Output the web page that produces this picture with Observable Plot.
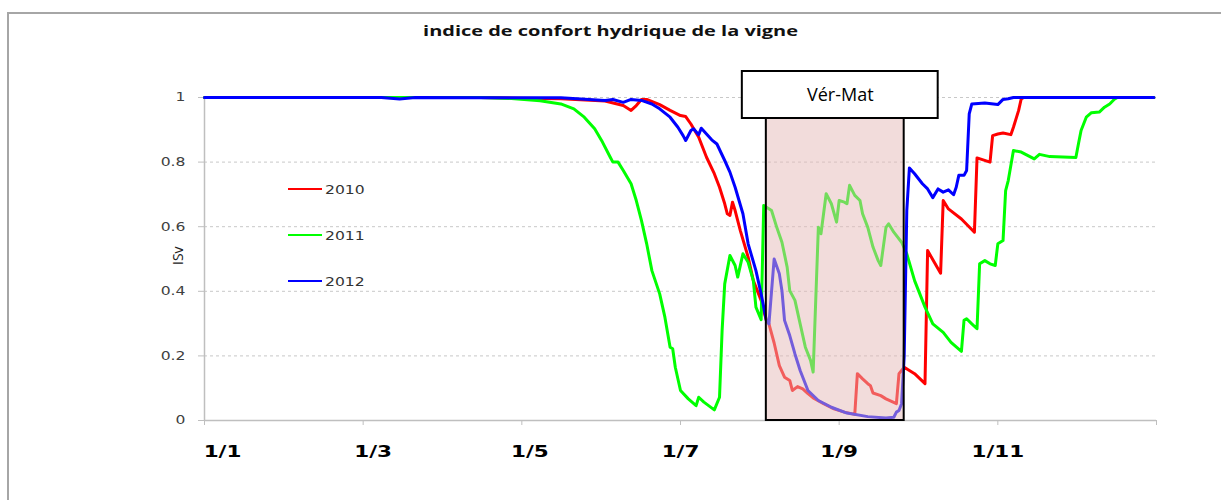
<!DOCTYPE html>
<html><head><meta charset="utf-8">
<script src="https://cdn.jsdelivr.net/npm/d3@7"></script>
<script src="https://cdn.jsdelivr.net/npm/@observablehq/plot@0.6"></script>
<style>
html,body{margin:0;padding:0;background:#fff;width:1221px;height:500px;overflow:hidden;}
#cadre{position:absolute;left:7px;top:12px;right:-4px;bottom:-4px;border-top:2px solid #a6a6a6;border-left:2px solid #a6a6a6;}
#titre{position:absolute;left:0;top:21px;width:1221px;text-align:center;font:bold 14px "Open Sans";color:#111;line-height:20px;}
#titre span{display:inline-block;transform-origin:center;}
#chart{position:absolute;left:0;top:50px;}
</style></head><body>
<div id="cadre"></div>
<div id="titre"><span>indice de confort hydrique de la vigne</span></div>
<div id="chart"></div>
<script>
// Séries (jour depuis le 1er janvier, indice ISv)
const annees = ["2010", "2011", "2012"];
const jours2010 = [0,106,121,137,154,161,164,166,168,170,175,179,183,185,187,190,193,196,198,200,201,202,203,204,206,209,211,214,216,217,219,221,223,225,226,228,230,232,234,238,242,246,250,251,253,255,256,257,260,262,266,267,269,273,277,278,283,284,286,291,296,297,302,303,305,307,310,311,313,314,315,365];
const isv2010 = [1,1,0.998,0.996,0.989,0.975,0.96,0.975,0.994,0.994,0.978,0.96,0.944,0.941,0.918,0.877,0.815,0.764,0.722,0.671,0.64,0.635,0.676,0.65,0.588,0.506,0.433,0.372,0.31,0.299,0.24,0.17,0.134,0.124,0.093,0.105,0.098,0.083,0.07,0.052,0.036,0.026,0.019,0.145,0.129,0.114,0.108,0.085,0.077,0.067,0.052,0.145,0.165,0.145,0.114,0.526,0.456,0.681,0.655,0.624,0.583,0.813,0.8,0.882,0.887,0.89,0.885,0.908,0.96,0.996,1,1];
const jours2011 = [0,106,118,129,137,142,146,150,153,156,157,159,161,164,166,168,170,172,175,177,179,180,181,183,186,189,190,192,196,198,199,200,202,204,205,207,209,211,212,214,215,218,220,222,224,225,227,229,231,233,234,236,237,239,241,243,244,246,247,248,250,252,253,255,257,259,260,262,263,265,268,270,273,277,280,284,287,291,292,293,295,297,298,300,302,304,305,307,308,309,311,314,319,321,325,335,336,337,339,341,344,346,348,350,351,365];
const isv2011 = [1,1,0.997,0.99,0.98,0.965,0.939,0.903,0.862,0.815,0.8,0.8,0.774,0.733,0.681,0.619,0.547,0.464,0.392,0.32,0.227,0.222,0.165,0.093,0.067,0.046,0.072,0.057,0.033,0.072,0.279,0.423,0.511,0.48,0.444,0.516,0.49,0.433,0.351,0.312,0.666,0.65,0.598,0.552,0.475,0.402,0.372,0.299,0.227,0.186,0.15,0.598,0.578,0.702,0.671,0.614,0.681,0.676,0.671,0.728,0.697,0.681,0.64,0.598,0.537,0.495,0.48,0.598,0.609,0.583,0.552,0.516,0.433,0.351,0.299,0.273,0.242,0.214,0.31,0.315,0.299,0.284,0.485,0.495,0.485,0.48,0.547,0.557,0.712,0.743,0.836,0.831,0.81,0.824,0.817,0.814,0.857,0.898,0.939,0.953,0.955,0.97,0.98,0.996,1,1];
const jours2012 = [0,68,75,81,137,154,157,161,164,168,172,175,179,182,184,185,187,188,190,191,193,195,197,200,202,204,207,209,212,214,216,217,219,221,222,223,225,227,229,232,236,241,247,255,262,265,266,267,268,269,270,271,273,276,278,280,282,284,286,288,289,290,292,293,294,295,300,305,307,309,311,365];
const isv2012 = [1,1,0.995,1,0.999,0.991,0.994,0.985,0.994,0.991,0.98,0.965,0.939,0.908,0.882,0.867,0.898,0.903,0.885,0.905,0.887,0.869,0.856,0.805,0.769,0.722,0.64,0.547,0.464,0.392,0.31,0.299,0.5,0.454,0.402,0.31,0.263,0.206,0.155,0.093,0.062,0.041,0.023,0.012,0.008,0.01,0.026,0.031,0.052,0.2,0.65,0.782,0.764,0.733,0.717,0.69,0.717,0.707,0.714,0.699,0.722,0.759,0.759,0.774,0.949,0.98,0.983,0.978,0.994,0.996,1,1];

// Axes
const tickJours = [0, 61, 122, 183, 244, 305, 366];
const tickLabels = ["1/1", "1/3", "1/5", "1/7", "1/9", "1/11", ""];
const yTicks = [0, 0.2, 0.4, 0.6, 0.8, 1];
const yLabel = "ISv";

// Période véraison - maturité
const phaseNom = "Vér-Mat";
const phaseJours = [216, 269];

const couleurs = ["#ff0000", "#00ff00", "#0000ff"];

const t0 = Date.UTC(2012, 0, 1);
const toDate = j => new Date(t0 + j * 864e5);
const series = [[jours2010, isv2010], [jours2011, isv2011], [jours2012, isv2012]]
  .map(([js, vs], k) => js.map((j, i) => ({annee: annees[k], date: toDate(j), isv: vs[i]})));
const labelMap = new Map(tickJours.map((j, i) => [+toDate(j), tickLabels[i]]));
const phase = [{debut: toDate(phaseJours[0]), fin: toDate(phaseJours[1]), milieu: toDate((phaseJours[0] + phaseJours[1]) / 2)}];

const plot = Plot.plot({
  width: 1221, height: 450,
  marginLeft: 204, marginRight: 65, marginTop: 47, marginBottom: 80,
  style: {background: "transparent", overflow: "visible"},
  x: {type: "utc", domain: [toDate(0), toDate(366)], label: null},
  y: {domain: [0, 1], label: null},
  marks: [
    Plot.ruleY(yTicks.filter(v => v > 0), {stroke: "#c8c8c8", strokeDasharray: "3,3"}),
    Plot.ruleY([0], {stroke: "#bfbfbf", strokeWidth: 1.5}),
    Plot.ruleX([toDate(0)], {stroke: "#bfbfbf", strokeWidth: 1.5}),
    Plot.axisX(tickJours.map(toDate), {tickSize: 5, tickPadding: 21, stroke: "#bfbfbf", fill: "#000",
      fontSize: 15, fontWeight: "bold", fontFamily: "DejaVu Sans", label: null,
      tickFormat: d => labelMap.get(+d) ?? ""}),
    Plot.axisY(yTicks, {tickSize: 6, tickPadding: 13, stroke: "#bfbfbf", fill: "#404040",
      fontSize: 12, fontFamily: "DejaVu Sans", label: null, tickFormat: d => String(d)}),
    Plot.text([yLabel], {frameAnchor: "left", rotate: -90, dx: -26, dy: 6, fontSize: 14, fontFamily: "Open Sans", fill: "#222"}),
    ...series.map((s, k) => Plot.line(s, {x: "date", y: "isv", stroke: couleurs[k], strokeWidth: 3, strokeLinejoin: "round"})),
    Plot.rect(phase, {x1: "debut", x2: "fin", insetTop: 21, fill: "#e6b9b8", fillOpacity: 0.5, stroke: "#000", strokeWidth: 2}),
    Plot.rect(phase, {x1: "debut", x2: "fin", insetTop: -26, insetBottom: 302, insetLeft: -24, insetRight: -34, fill: "#fff", stroke: "#000", strokeWidth: 2}),
    Plot.text(phase, {x: "milieu", frameAnchor: "top", text: () => phaseNom, dx: 5, dy: -2.5, fontSize: 18, fontFamily: "Open Sans", fill: "#000", lineAnchor: "middle"})
  ]
});
document.getElementById("chart").append(plot);

const svg = d3.select(plot);
function etirer(sel, k) {
  sel.each(function() {
    const w = this.getComputedTextLength();
    if (w > 0) { this.setAttribute("textLength", (w * k).toFixed(1)); this.setAttribute("lengthAdjust", "spacingAndGlyphs"); }
  });
}
const xLabels = svg.selectAll('g[aria-label="x-axis tick label"] text');
etirer(xLabels, 1.43);
// décalage horizontal des premières étiquettes (comme dans l'original)
const decalages = [18, 10, 8, 0, 0, 0, 0];
xLabels.each(function(d, i) {
  const dxv = decalages[i] || 0;
  if (dxv) this.setAttribute("transform", `translate(${dxv},0) ` + (this.getAttribute("transform") || ""));
});
etirer(svg.selectAll('g[aria-label="y-axis tick label"] text'), 1.3);

// Légende intégrée
const leg = svg.append("g").attr("aria-label", "legend").attr("text-anchor", "start");
annees.forEach((a, k) => {
  const y = 139 + 46 * k;
  leg.append("line").attr("x1", 288).attr("x2", 322).attr("y1", y).attr("y2", y)
    .attr("stroke", couleurs[k]).attr("stroke-width", 2);
  leg.append("text").attr("x", 325).attr("y", y).attr("dy", "0.35em").attr("text-anchor", "start")
    .attr("font-family", "DejaVu Sans").attr("font-size", 13).attr("fill", "#333").text(a);
});
etirer(leg.selectAll("text"), 1.2);

const span = document.querySelector("#titre span");
const tw = span.getBoundingClientRect().width;
if (tw > 0) span.style.transform = `scaleX(${375 / tw})`;
</script>
</body></html>
